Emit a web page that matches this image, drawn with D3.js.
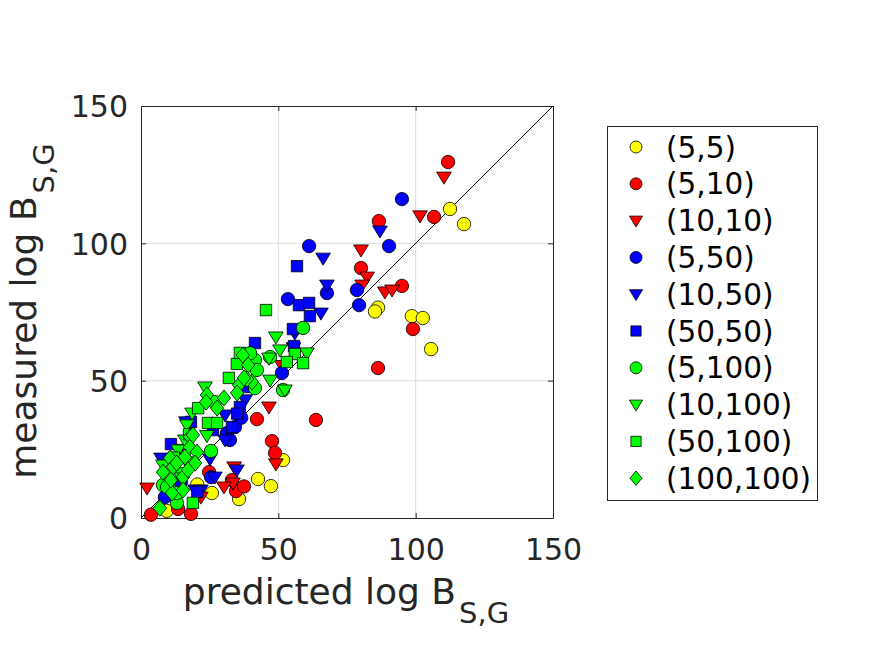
<!DOCTYPE html>
<html>
<head>
<meta charset="utf-8">
<script src="https://cdn.jsdelivr.net/npm/d3@7"></script>
<style>
  body { margin: 0; background: #fff; }
  text { font-family: "DejaVu Sans", sans-serif; }
</style>
</head>
<body>
<svg id="chart" width="875" height="656"></svg>
<script>
'use strict';

// series in legend order
var seriesNames = ["(5,5)", "(5,10)", "(10,10)", "(5,50)", "(10,50)", "(50,50)",
    "(5,100)", "(10,100)", "(50,100)", "(100,100)"];
var seriesColors = ["#ffff00", "#ff0000", "#ff0000", "#0000ff", "#0000ff", "#0000ff",
    "#00ff00", "#00ff00", "#00ff00", "#00ff00"];
var seriesShapes = ["circle", "circle", "triangle", "circle", "triangle", "square",
    "circle", "triangle", "square", "diamond"];

// [predicted, measured]
var s5_5 = [[112.5,112.5],[117.6,107],[86.3,76.6],[85.2,75.2],[98.6,73.5],[102.6,72.8],
    [105.6,61.5],[51.7,21.1],[42.6,14.2],[47.3,11.6],[35.7,6.9],[25.8,9.1],[20.5,12.2],[9.3,2.6]];
var s5_10 = [[111.8,129.6],[106.7,109.6],[86.6,108.1],[80.1,91],[95,84.5],[99,68.8],[86.3,54.6],
    [63.7,35.7],[47.7,28],[42.2,36],[48.8,23.7],[33.1,13.8],[34.6,9.8],[24.8,16.7],[18.2,1.5],
    [3.6,1.2],[13.5,3.3],[37.5,11.5]];
var s10_10 = [[110.3,124.1],[101.6,110],[80.1,97.6],[82.3,87.7],[80.5,84.8],[88.8,82.3],[91.4,83],
    [46.6,40.4],[49.1,19.7],[33.9,18.6],[33.5,12.7],[30.2,11.3],[2.2,10.9],[21.8,7.6],[51.3,55.5]];
var s5_50 = [[95,116.1],[90.3,99],[78.6,83],[79.4,77.5],[61.2,99],[67.7,81.9],[53.5,79.7],
    [51.3,52.8],[31.3,30.9],[32.4,28.4],[34.2,33.1],[25.5,14.9],[8.7,7.6],[36.5,36.5],[14.5,13]];
var s10_50 = [[87,104.5],[66.3,94.6],[67.7,84.8],[65.5,74.6],[56,67.3],[55.5,62],[19.7,10.2],
    [21.8,10.2],[7.3,21.8],[16.4,35],[30.6,28.4],[26.9,14.9],[25.1,21.5],[30.6,37.5],[37.9,43],
    [34.9,17.5],[14,25]];
var s50_50 = [[56.8,91.7],[57.5,77.5],[61.2,78.3],[61.5,73.5],[55.3,68.8],[55.7,62.6],[41.5,63.7],
    [38.6,47.7],[36,40.4],[26.2,32],[10.9,26.9],[18.2,35],[33.1,33.1],[20.5,9.5],[35,38]];
var s5_100 = [[59,69.2],[51.7,46.6],[47,58.6],[41.5,57.5],[41.5,47.3],[39.7,60],[26.9,42.2],
    [25.5,24.4],[13.1,5.5],[8,12],[9.5,11.3],[13.1,9.1],[42.2,53.9],[18,20],[15,16]];
var s10_100 = [[49.1,65.9],[50.6,61.2],[60.4,60.1],[52.4,46.6],[46.6,58.2],[47,50.2],[23.3,47.7],
    [18.6,38.2],[16.7,33.9],[8,19.3],[13.5,24.8],[16,28.4],[14.6,14.6],[24,30]];
var s50_100 = [[45.5,75.7],[34.9,56.1],[32,51],[20.8,40],[24.4,34.6],[27.7,34.6],[18.9,5.5],
    [36,60.1],[56,59.7],[59,56.4],[53.1,56.8],[17.5,30.5],[12,22]];
var s100_100 = [[37.1,59.3],[39,55.7],[40.4,49.5],[24,44.8],[30.2,43.7],[27.7,40],[17.8,29.5],
    [17.8,25.8],[10.6,21.8],[11.7,18.6],[8,16.7],[15.3,14.9],[11.3,9.1],[6.9,3.6],[20.4,24],
    [16,22.2],[18.9,30.2],[19.7,20],[10.9,13.8],[15.3,10.2],[17.1,17.5],[35.7,48.4],[35,45.5],
    [38.6,50.6],[37.5,51],[23.7,42.2],[13,20]];

var seriesData = [s5_5, s5_10, s10_10, s5_50, s10_50, s50_50, s5_100, s10_100, s50_100, s100_100];
var ticks = [0, 50, 100, 150];

var margin = {left: 141, top: 106, right: 322, bottom: 138};
var width = 875, height = 656;
var plotW = width - margin.left - margin.right;
var plotH = height - margin.top - margin.bottom;

var svg = d3.select("#chart");

var x = d3.scaleLinear().domain([0, 150]).range([margin.left, margin.left + plotW]);
var y = d3.scaleLinear().domain([0, 150]).range([margin.top + plotH, margin.top]);

function markerPath(shape, s) {
    // s = nominal half size in px
    if (shape === "circle") {
        return "M" + s + ",0A" + s + "," + s + " 0 1,1 " + (-s) + ",0A" + s + "," + s + " 0 1,1 " + s + ",0Z";
    }
    if (shape === "triangle") {
        var w = s * 1.1;
        return "M" + (-w) + "," + (-s * 0.75) + "L" + w + "," + (-s * 0.75) + "L0," + (s * 1.05) + "Z";
    }
    if (shape === "square") {
        var h = s * 0.85;
        return "M" + (-h) + "," + (-h) + "H" + h + "V" + h + "H" + (-h) + "Z";
    }
    // diamond, taller than wide
    return "M0," + (-s * 1.2) + "L" + s + ",0L0," + (s * 1.2) + "L" + (-s) + ",0Z";
}

// grid
var grid = svg.append("g").attr("class", "grid");
grid.selectAll("line.gx").data(ticks.slice(1, 3)).enter().append("line")
    .attr("x1", function (d) { return x(d); }).attr("x2", function (d) { return x(d); })
    .attr("y1", y(0)).attr("y2", y(150))
    .attr("stroke", "#dedede").attr("stroke-width", 1);
grid.selectAll("line.gy").data(ticks.slice(1, 3)).enter().append("line")
    .attr("y1", function (d) { return y(d); }).attr("y2", function (d) { return y(d); })
    .attr("x1", x(0)).attr("x2", x(150))
    .attr("stroke", "#dedede").attr("stroke-width", 1);

// axes (ticks inward)
var axisColor = "#262626";
var xAxis = svg.append("g").attr("transform", "translate(0," + y(0) + ")")
    .call(d3.axisBottom(x).tickValues(ticks).tickSizeInner(-5).tickSizeOuter(0).tickPadding(12));
var yAxis = svg.append("g").attr("transform", "translate(" + x(0) + ",0)")
    .call(d3.axisLeft(y).tickValues(ticks).tickSizeInner(-5).tickSizeOuter(0).tickPadding(13));
var xTop = svg.append("g").attr("transform", "translate(0," + y(150) + ")")
    .call(d3.axisTop(x).tickValues(ticks).tickSizeInner(-5).tickSizeOuter(0).tickFormat(""));
var yRight = svg.append("g").attr("transform", "translate(" + x(150) + ",0)")
    .call(d3.axisRight(y).tickValues(ticks).tickSizeInner(-5).tickSizeOuter(0).tickFormat(""));

[xAxis, yAxis, xTop, yRight].forEach(function (a) {
    a.select(".domain").attr("stroke", axisColor);
    a.selectAll(".tick line").attr("stroke", axisColor);
    a.selectAll(".tick text").attr("fill", axisColor)
        .style("font-family", "DejaVu Sans").style("font-size", "30px");
});
xAxis.selectAll(".tick text").attr("y", 42).attr("dy", "0");
yAxis.selectAll(".tick text").attr("dy", "0.36em");

// y = x reference line
svg.append("line")
    .attr("x1", x(0)).attr("y1", y(0)).attr("x2", x(150)).attr("y2", y(150))
    .attr("stroke", "#000").attr("stroke-width", 1);

// points
var pts = svg.append("g").attr("class", "points");
seriesData.forEach(function (data, i) {
    pts.append("g").selectAll("path").data(data).enter().append("path")
        .attr("d", markerPath(seriesShapes[i], 6.7))
        .attr("transform", function (d) { return "translate(" + x(d[0]) + "," + y(d[1]) + ")"; })
        .attr("fill", seriesColors[i])
        .attr("stroke", "#000")
        .attr("stroke-width", 0.8);
});

// axis labels
var xl = svg.append("text")
    .attr("x", 346).attr("y", 604)
    .attr("text-anchor", "middle")
    .attr("fill", axisColor)
    .style("font-size", "36px");
xl.append("tspan").text("predicted log B");
xl.append("tspan").attr("dx", 3).attr("dy", 19).style("font-size", "29px").text("S,G");

var yl = svg.append("text")
    .attr("transform", "translate(36,311) rotate(-90)")
    .attr("text-anchor", "middle")
    .attr("fill", axisColor)
    .style("font-size", "36px");
yl.append("tspan").text("measured log B");
yl.append("tspan").attr("dx", 3).attr("dy", 18).style("font-size", "29px").text("S,G");

// legend
var legend = svg.append("g").attr("class", "legend");
legend.append("rect")
    .attr("x", 607.5).attr("y", 126.5).attr("width", 210).attr("height", 374)
    .attr("fill", "#fff").attr("stroke", axisColor).attr("stroke-width", 1);
var entries = legend.selectAll("g.entry").data(seriesNames).enter().append("g")
    .attr("class", "entry")
    .attr("transform", function (d, i) { return "translate(0," + (147 + i * 36.8) + ")"; });
entries.append("path")
    .attr("transform", "translate(636,0)")
    .attr("d", function (d, i) { return markerPath(seriesShapes[i], 6); })
    .attr("fill", function (d, i) { return seriesColors[i]; })
    .attr("stroke", "#000").attr("stroke-width", 0.8);
entries.append("text")
    .attr("x", 666).attr("dy", "0.36em")
    .attr("fill", "#000")
    .style("font-size", "29.5px")
    .text(function (d) { return d; });
</script>
</body>
</html>
